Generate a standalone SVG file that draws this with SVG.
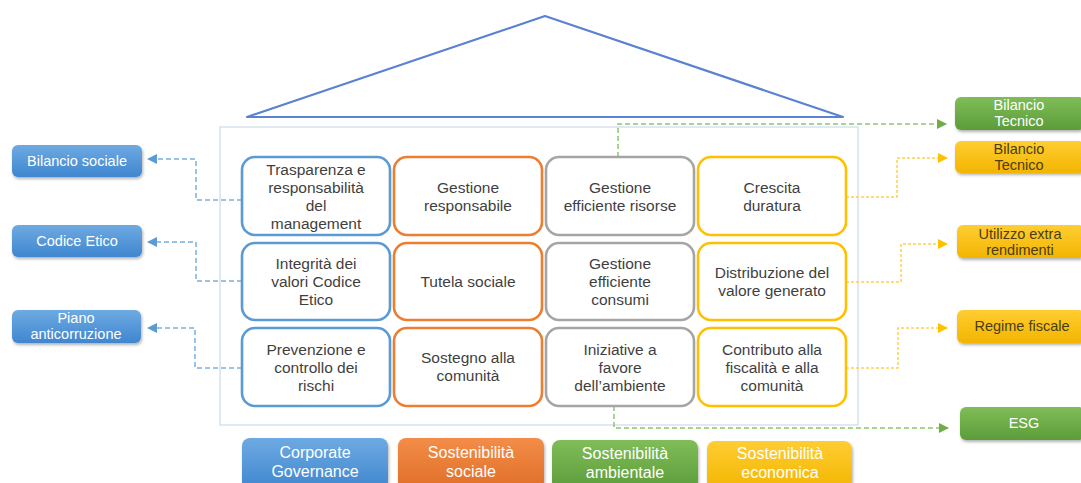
<svg xmlns="http://www.w3.org/2000/svg" width="1081" height="483" viewBox="0 0 1081 483">
<style>
.t{font-family:"Liberation Sans",Arial,sans-serif;font-size:15.5px;fill:#3f3f3f;text-anchor:middle}
.w{font-family:"Liberation Sans",Arial,sans-serif;font-size:14.5px;fill:#ffffff;text-anchor:middle}
.d{font-family:"Liberation Sans",Arial,sans-serif;font-size:14.5px;fill:#4a3d10;text-anchor:middle}
.b{font-family:"Liberation Sans",Arial,sans-serif;font-size:16px;fill:#ffffff;text-anchor:middle}
.cell{fill:#ffffff;stroke-width:2.6}
.cb{stroke:#5b9bd5}.co{stroke:#ed7d31}.cg{stroke:#a5a5a5}.cy{stroke:#ffc000}
.lb{fill:none;stroke:#7aaee0;stroke-width:1.5;stroke-dasharray:5 3}
.ly{fill:none;stroke:#ffd04d;stroke-width:1.5;stroke-dasharray:3 2}
.lg{fill:none;stroke:#8fc46d;stroke-width:1.5;stroke-dasharray:5 3}
</style>
<defs>
<linearGradient id="gB" x1="0" y1="0" x2="0" y2="1"><stop offset="0" stop-color="#6eaae2"/><stop offset="1" stop-color="#3f86cf"/></linearGradient>
<linearGradient id="gG" x1="0" y1="0" x2="0" y2="1"><stop offset="0" stop-color="#80bd58"/><stop offset="1" stop-color="#5c9c3a"/></linearGradient>
<linearGradient id="gY" x1="0" y1="0" x2="0" y2="1"><stop offset="0" stop-color="#ffcd33"/><stop offset="1" stop-color="#f3b500"/></linearGradient>
<linearGradient id="gO" x1="0" y1="0" x2="0" y2="1"><stop offset="0" stop-color="#f38d48"/><stop offset="1" stop-color="#e06e27"/></linearGradient>
<filter id="sh" x="-10%" y="-20%" width="120%" height="150%"><feDropShadow dx="1" dy="2" stdDeviation="1.5" flood-color="#000" flood-opacity="0.3"/></filter>
<marker id="aB" markerUnits="userSpaceOnUse" markerWidth="10" markerHeight="10" refX="9" refY="5" orient="auto"><path d="M0,0 L10,5 L0,10 z" fill="#5b9bd5"/></marker>
<marker id="aY" markerUnits="userSpaceOnUse" markerWidth="10" markerHeight="10" refX="9" refY="5" orient="auto"><path d="M0,0 L10,5 L0,10 z" fill="#ffc000"/></marker>
<marker id="aG" markerUnits="userSpaceOnUse" markerWidth="10" markerHeight="10" refX="9" refY="5" orient="auto"><path d="M0,0 L10,5 L0,10 z" fill="#70ad47"/></marker>
</defs>
<rect width="1081" height="483" fill="#ffffff"/>

<g id="roof"><polygon points="545,16 247,117 843,117" fill="none" stroke="#5a82d2" stroke-width="2.2" stroke-linejoin="round"/></g>
<g id="container"><rect x="220" y="127" width="638" height="298" fill="none" stroke="#d6e1ee" stroke-width="1.5"/></g>

<g id="connectors">
<path class="lb" d="M242,200 H196 V159 H148" marker-end="url(#aB)"/>
<path class="lb" d="M242,281 H196 V242 H148" marker-end="url(#aB)"/>
<path class="lb" d="M242,368 H195 V328 H148" marker-end="url(#aB)"/>
<path class="ly" d="M846,197 H897 V158 H947" marker-end="url(#aY)"/>
<path class="ly" d="M846,282 H901 V244 H947" marker-end="url(#aY)"/>
<path class="ly" d="M846,368 H898 V328 H947" marker-end="url(#aY)"/>
<path class="lg" d="M618,157 V124 H946" marker-end="url(#aG)"/>
<path class="lg" d="M614,406 V428 H948" marker-end="url(#aG)"/>
</g>

<g id="n-trasparenza"><rect class="cell cb" x="242" y="157" width="148" height="78" rx="13"/><text class="t" x="316"><tspan x="316" y="175">Trasparenza e</tspan><tspan x="316" y="193">responsabilità</tspan><tspan x="316" y="211">del</tspan><tspan x="316" y="229">management</tspan></text></g>
<g id="n-gestione-resp"><rect class="cell co" x="394" y="157" width="148" height="78" rx="13"/><text class="t"><tspan x="468" y="193">Gestione</tspan><tspan x="468" y="211">responsabile</tspan></text></g>
<g id="n-gestione-risorse"><rect class="cell cg" x="546" y="157" width="148" height="78" rx="13"/><text class="t"><tspan x="620" y="193">Gestione</tspan><tspan x="620" y="211">efficiente risorse</tspan></text></g>
<g id="n-crescita"><rect class="cell cy" x="698" y="157" width="148" height="78" rx="13"/><text class="t"><tspan x="772" y="193">Crescita</tspan><tspan x="772" y="211">duratura</tspan></text></g>

<g id="n-integrita"><rect class="cell cb" x="242" y="243" width="148" height="77" rx="13"/><text class="t"><tspan x="316" y="269">Integrità dei</tspan><tspan x="316" y="287">valori Codice</tspan><tspan x="316" y="305">Etico</tspan></text></g>
<g id="n-tutela"><rect class="cell co" x="394" y="243" width="148" height="77" rx="13"/><text class="t" x="468" y="287">Tutela sociale</text></g>
<g id="n-consumi"><rect class="cell cg" x="546" y="243" width="148" height="77" rx="13"/><text class="t"><tspan x="620" y="269">Gestione</tspan><tspan x="620" y="287">efficiente</tspan><tspan x="620" y="305">consumi</tspan></text></g>
<g id="n-distribuzione"><rect class="cell cy" x="698" y="243" width="148" height="77" rx="13"/><text class="t"><tspan x="772" y="278">Distribuzione del</tspan><tspan x="772" y="296">valore generato</tspan></text></g>

<g id="n-prevenzione"><rect class="cell cb" x="242" y="328" width="148" height="78" rx="13"/><text class="t"><tspan x="316" y="355">Prevenzione e</tspan><tspan x="316" y="373">controllo  dei</tspan><tspan x="316" y="391">rischi</tspan></text></g>
<g id="n-sostegno"><rect class="cell co" x="394" y="328" width="148" height="78" rx="13"/><text class="t"><tspan x="468" y="363">Sostegno alla</tspan><tspan x="468" y="381">comunità</tspan></text></g>
<g id="n-iniziative"><rect class="cell cg" x="546" y="328" width="148" height="78" rx="13"/><text class="t"><tspan x="620" y="355">Iniziative a</tspan><tspan x="620" y="373">favore</tspan><tspan x="620" y="391">dell’ambiente</tspan></text></g>
<g id="n-contributo"><rect class="cell cy" x="698" y="328" width="148" height="78" rx="13"/><text class="t"><tspan x="772" y="355">Contributo alla</tspan><tspan x="772" y="373">fiscalità e alla</tspan><tspan x="772" y="391">comunità</tspan></text></g>

<g id="n-bilancio-sociale"><rect x="12" y="145" width="130" height="32" rx="6" fill="url(#gB)" filter="url(#sh)"/><text class="w" x="77" y="166">Bilancio sociale</text></g>
<g id="n-codice-etico"><rect x="12" y="225" width="130" height="32" rx="6" fill="url(#gB)" filter="url(#sh)"/><text class="w" x="77" y="246">Codice Etico</text></g>
<g id="n-piano"><rect x="12" y="310" width="129" height="33" rx="6" fill="url(#gB)" filter="url(#sh)"/><text class="w"><tspan x="76" y="323">Piano</tspan><tspan x="76" y="339">anticorruzione</tspan></text></g>

<g id="n-bilancio-tecnico-g"><rect x="955" y="97" width="130" height="33" rx="6" fill="url(#gG)" filter="url(#sh)"/><text class="w"><tspan x="1019" y="110">Bilancio</tspan><tspan x="1019" y="126">Tecnico</tspan></text></g>
<g id="n-bilancio-tecnico-y"><rect x="955" y="141" width="130" height="32" rx="6" fill="url(#gY)" filter="url(#sh)"/><text class="d"><tspan x="1019" y="154">Bilancio</tspan><tspan x="1019" y="170">Tecnico</tspan></text></g>
<g id="n-utilizzo"><rect x="957" y="225" width="128" height="33" rx="6" fill="url(#gY)" filter="url(#sh)"/><text class="d"><tspan x="1020" y="239">Utilizzo extra</tspan><tspan x="1020" y="255">rendimenti</tspan></text></g>
<g id="n-regime"><rect x="957" y="310" width="128" height="33" rx="6" fill="url(#gY)" filter="url(#sh)"/><text class="d" x="1022" y="331">Regime fiscale</text></g>
<g id="n-esg"><rect x="960" y="407" width="125" height="33" rx="6" fill="url(#gG)" filter="url(#sh)"/><text class="w" x="1024" y="428">ESG</text></g>

<g id="n-corporate"><rect x="242" y="438" width="146" height="52" rx="8" fill="url(#gB)" filter="url(#sh)"/><text class="b"><tspan x="315" y="458">Corporate</tspan><tspan x="315" y="477">Governance</tspan></text></g>
<g id="n-sost-sociale"><rect x="398" y="438" width="146" height="52" rx="8" fill="url(#gO)" filter="url(#sh)"/><text class="b"><tspan x="471" y="458">Sostenibilità</tspan><tspan x="471" y="477">sociale</tspan></text></g>
<g id="n-sost-ambientale"><rect x="552" y="440" width="146" height="50" rx="8" fill="url(#gG)" filter="url(#sh)"/><text class="b"><tspan x="625" y="459">Sostenibilità</tspan><tspan x="625" y="478">ambientale</tspan></text></g>
<g id="n-sost-economica"><rect x="707" y="441" width="145" height="49" rx="8" fill="url(#gY)" filter="url(#sh)"/><text class="b"><tspan x="780" y="459">Sostenibilità</tspan><tspan x="780" y="478">economica</tspan></text></g>
</svg>
